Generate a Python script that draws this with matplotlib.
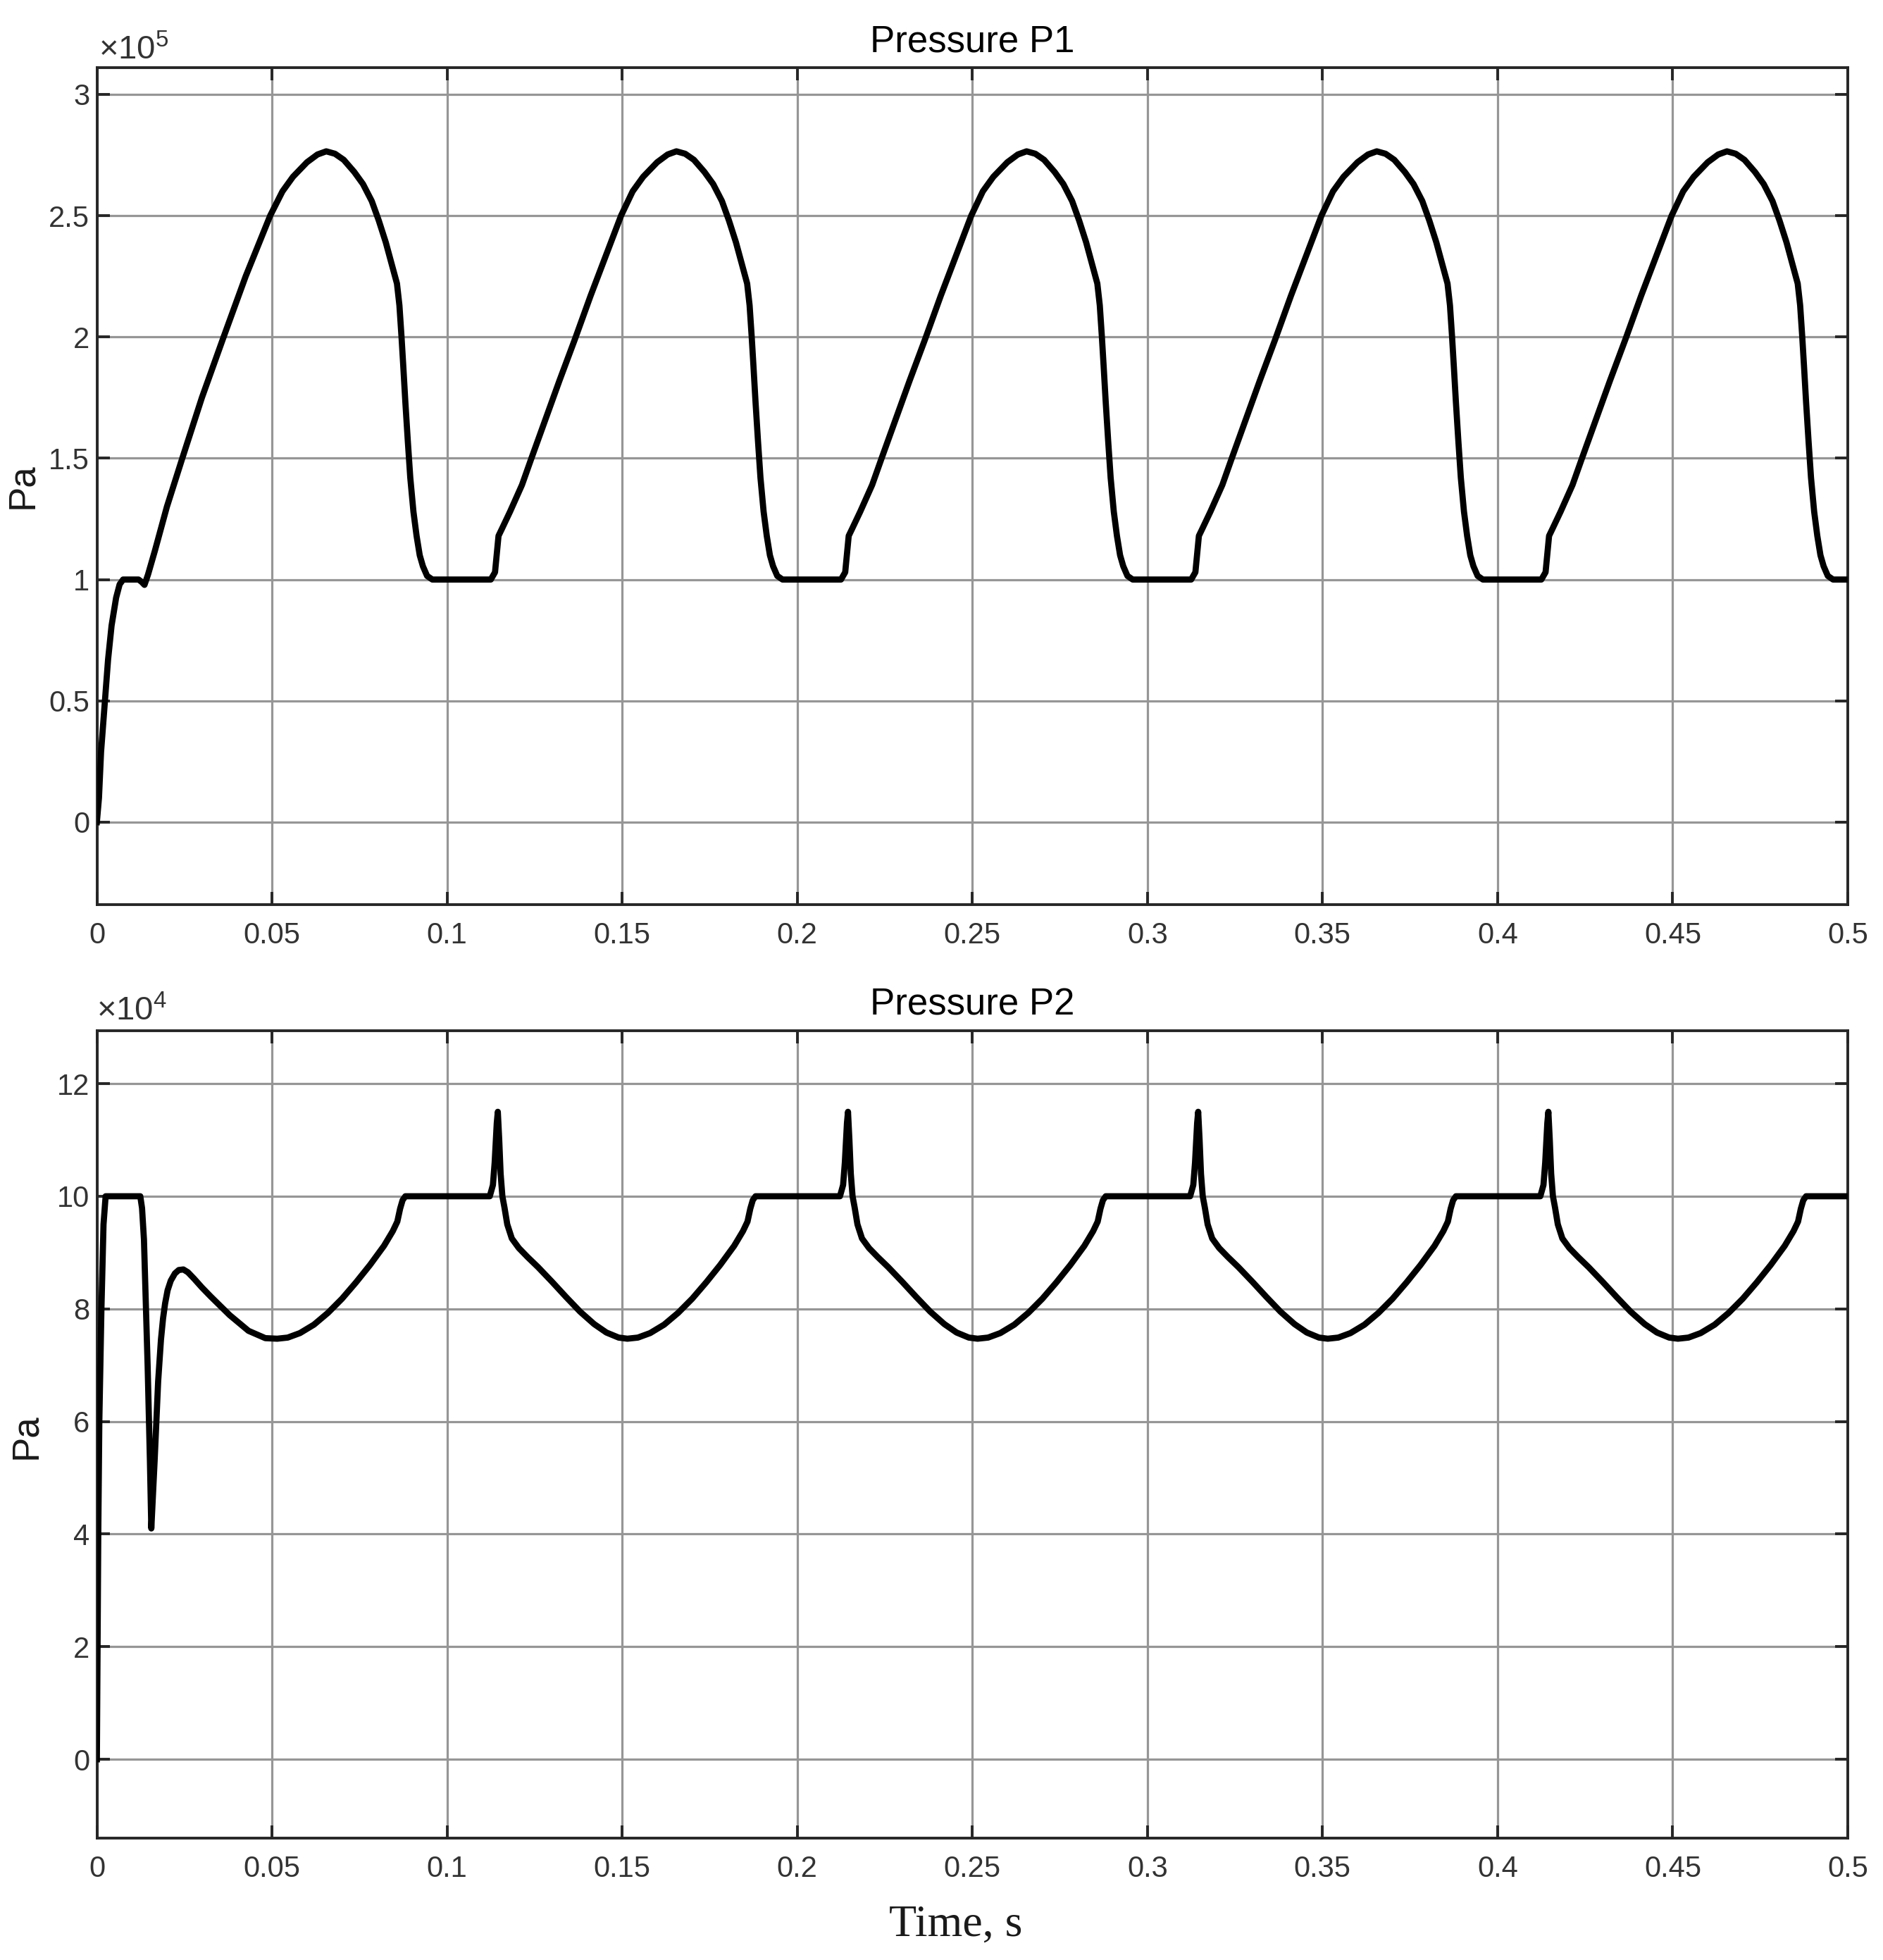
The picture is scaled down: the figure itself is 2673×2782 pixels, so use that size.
import matplotlib
matplotlib.use("Agg")
import matplotlib.pyplot as plt

plt.rcParams['font.family'] = ['Liberation Sans', 'DejaVu Sans']
plt.rcParams['mathtext.fontset'] = 'custom'
plt.rcParams['mathtext.rm'] = 'Liberation Sans'
plt.rcParams['mathtext.it'] = 'Liberation Sans:italic'

# ---------------- data ----------------
# Pressure P1, units of 1e5 Pa
p1_time = [
    0.0000, 0.0006, 0.0012, 0.0022, 0.0032, 0.0042, 0.0055, 0.0065, 0.0075, 0.0119, 0.0128, 0.0136, 0.0146,
    0.0166, 0.0200, 0.0244, 0.0300, 0.0362, 0.0425, 0.0495,
    0.0530, 0.0560, 0.0600, 0.0630, 0.0655, 0.0680, 0.0705, 0.0735, 0.0760, 0.0785, 0.0805, 0.0825, 0.0842,
    0.0857, 0.0864, 0.0870, 0.0875, 0.0881, 0.0888, 0.0895, 0.0904, 0.0913, 0.0922, 0.0931, 0.0943, 0.0958,
    # cycle 2
    0.1125, 0.1137, 0.1147, 0.1157, 0.1180, 0.1214, 0.1241, 0.1281, 0.1321, 0.1365, 0.1410, 0.1460, 0.1497,
    0.1530, 0.1560, 0.1600, 0.1630, 0.1655, 0.1680, 0.1705, 0.1735, 0.1760, 0.1785, 0.1805, 0.1825, 0.1842,
    0.1857, 0.1864, 0.1870, 0.1875, 0.1881, 0.1888, 0.1895, 0.1904, 0.1913, 0.1922, 0.1931, 0.1943, 0.1958,
    # cycle 3
    0.2125, 0.2137, 0.2147, 0.2157, 0.2180, 0.2214, 0.2241, 0.2281, 0.2321, 0.2365, 0.2410, 0.2460, 0.2497,
    0.2530, 0.2560, 0.2600, 0.2630, 0.2655, 0.2680, 0.2705, 0.2735, 0.2760, 0.2785, 0.2805, 0.2825, 0.2842,
    0.2857, 0.2864, 0.2870, 0.2875, 0.2881, 0.2888, 0.2895, 0.2904, 0.2913, 0.2922, 0.2931, 0.2943, 0.2958,
    # cycle 4
    0.3125, 0.3137, 0.3147, 0.3157, 0.3180, 0.3214, 0.3241, 0.3281, 0.3321, 0.3365, 0.3410, 0.3460, 0.3497,
    0.3530, 0.3560, 0.3600, 0.3630, 0.3655, 0.3680, 0.3705, 0.3735, 0.3760, 0.3785, 0.3805, 0.3825, 0.3842,
    0.3857, 0.3864, 0.3870, 0.3875, 0.3881, 0.3888, 0.3895, 0.3904, 0.3913, 0.3922, 0.3931, 0.3943, 0.3958,
    # cycle 5
    0.4125, 0.4137, 0.4147, 0.4157, 0.4180, 0.4214, 0.4241, 0.4281, 0.4321, 0.4365, 0.4410, 0.4460, 0.4497,
    0.4530, 0.4560, 0.4600, 0.4630, 0.4655, 0.4680, 0.4705, 0.4735, 0.4760, 0.4785, 0.4805, 0.4825, 0.4842,
    0.4857, 0.4864, 0.4870, 0.4875, 0.4881, 0.4888, 0.4895, 0.4904, 0.4913, 0.4922, 0.4931, 0.4943, 0.4958,
    0.5000,
]
p1_value = [
    0.00, 0.10, 0.29, 0.48, 0.67, 0.81, 0.925, 0.98, 1.00, 1.00, 0.99, 0.978, 1.02,
    1.12, 1.30, 1.50, 1.75, 2.00, 2.25, 2.50,
    2.60, 2.66, 2.72, 2.752, 2.765, 2.755, 2.73, 2.68, 2.63, 2.56, 2.48, 2.39, 2.30,
    2.22, 2.13, 2.00, 1.88, 1.73, 1.57, 1.42, 1.28, 1.18, 1.10, 1.055, 1.015, 1.00,
    # cycle 2
    1.00, 1.03, 1.18, 1.21, 1.28, 1.39, 1.50, 1.66, 1.82, 1.99, 2.17, 2.36, 2.50,
    2.60, 2.66, 2.72, 2.752, 2.765, 2.755, 2.73, 2.68, 2.63, 2.56, 2.48, 2.39, 2.30,
    2.22, 2.13, 2.00, 1.88, 1.73, 1.57, 1.42, 1.28, 1.18, 1.10, 1.055, 1.015, 1.00,
    # cycle 3
    1.00, 1.03, 1.18, 1.21, 1.28, 1.39, 1.50, 1.66, 1.82, 1.99, 2.17, 2.36, 2.50,
    2.60, 2.66, 2.72, 2.752, 2.765, 2.755, 2.73, 2.68, 2.63, 2.56, 2.48, 2.39, 2.30,
    2.22, 2.13, 2.00, 1.88, 1.73, 1.57, 1.42, 1.28, 1.18, 1.10, 1.055, 1.015, 1.00,
    # cycle 4
    1.00, 1.03, 1.18, 1.21, 1.28, 1.39, 1.50, 1.66, 1.82, 1.99, 2.17, 2.36, 2.50,
    2.60, 2.66, 2.72, 2.752, 2.765, 2.755, 2.73, 2.68, 2.63, 2.56, 2.48, 2.39, 2.30,
    2.22, 2.13, 2.00, 1.88, 1.73, 1.57, 1.42, 1.28, 1.18, 1.10, 1.055, 1.015, 1.00,
    # cycle 5
    1.00, 1.03, 1.18, 1.21, 1.28, 1.39, 1.50, 1.66, 1.82, 1.99, 2.17, 2.36, 2.50,
    2.60, 2.66, 2.72, 2.752, 2.765, 2.755, 2.73, 2.68, 2.63, 2.56, 2.48, 2.39, 2.30,
    2.22, 2.13, 2.00, 1.88, 1.73, 1.57, 1.42, 1.28, 1.18, 1.10, 1.055, 1.015, 1.00,
    1.00,
]

# Pressure P2, units of 1e4 Pa
p2_time = [
    0.0000, 0.0004, 0.0007, 0.0013, 0.0019, 0.0025, 0.0124, 0.0129, 0.01345, 0.0145, 0.01515, 0.01555,
    0.0165, 0.0175, 0.0183, 0.0189, 0.0195, 0.0202, 0.0211, 0.0223, 0.0234, 0.0247, 0.0260, 0.0277,
    0.0300, 0.0325, 0.0379, 0.0433, 0.0481, 0.0515,
    0.0545, 0.0580, 0.0620, 0.0660, 0.0700, 0.0740, 0.0780, 0.0820, 0.0845, 0.0858, 0.0866, 0.0873, 0.0881,
    # cycle 2
    0.1122, 0.1131, 0.1136, 0.1142, 0.1145, 0.1149, 0.1153, 0.1158, 0.1164, 0.1172, 0.1185, 0.1205,
    0.1230, 0.1260, 0.1300, 0.1340, 0.1380, 0.1420, 0.1455, 0.1490, 0.1515,
    0.1545, 0.1580, 0.1620, 0.1660, 0.1700, 0.1740, 0.1780, 0.1820, 0.1845, 0.1858, 0.1866, 0.1873, 0.1881,
    # cycle 3
    0.2122, 0.2131, 0.2136, 0.2142, 0.2145, 0.2149, 0.2153, 0.2158, 0.2164, 0.2172, 0.2185, 0.2205,
    0.2230, 0.2260, 0.2300, 0.2340, 0.2380, 0.2420, 0.2455, 0.2490, 0.2515,
    0.2545, 0.2580, 0.2620, 0.2660, 0.2700, 0.2740, 0.2780, 0.2820, 0.2845, 0.2858, 0.2866, 0.2873, 0.2881,
    # cycle 4
    0.3122, 0.3131, 0.3136, 0.3142, 0.3145, 0.3149, 0.3153, 0.3158, 0.3164, 0.3172, 0.3185, 0.3205,
    0.3230, 0.3260, 0.3300, 0.3340, 0.3380, 0.3420, 0.3455, 0.3490, 0.3515,
    0.3545, 0.3580, 0.3620, 0.3660, 0.3700, 0.3740, 0.3780, 0.3820, 0.3845, 0.3858, 0.3866, 0.3873, 0.3881,
    # cycle 5
    0.4122, 0.4131, 0.4136, 0.4142, 0.4145, 0.4149, 0.4153, 0.4158, 0.4164, 0.4172, 0.4185, 0.4205,
    0.4230, 0.4260, 0.4300, 0.4340, 0.4380, 0.4420, 0.4455, 0.4490, 0.4515,
    0.4545, 0.4580, 0.4620, 0.4660, 0.4700, 0.4740, 0.4780, 0.4820, 0.4845, 0.4858, 0.4866, 0.4873, 0.4881,
    0.5000,
]
p2_value = [
    0.0, 4.0, 6.0, 8.0, 9.5, 10.0, 10.0, 9.79, 9.23, 6.99, 5.31, 4.10,
    5.31, 6.71, 7.45, 7.83, 8.10, 8.33, 8.50, 8.63, 8.69, 8.70, 8.65, 8.54,
    8.38, 8.22, 7.89, 7.61, 7.48, 7.47,
    7.49, 7.57, 7.72, 7.93, 8.18, 8.47, 8.78, 9.12, 9.38, 9.55, 9.78, 9.93, 10.0,
    # cycle 2
    10.0, 10.2, 10.6, 11.3, 11.5, 11.0, 10.4, 10.0, 9.8, 9.5, 9.25, 9.08,
    8.92, 8.74, 8.48, 8.21, 7.95, 7.73, 7.58, 7.49, 7.47,
    7.49, 7.57, 7.72, 7.93, 8.18, 8.47, 8.78, 9.12, 9.38, 9.55, 9.78, 9.93, 10.0,
    # cycle 3
    10.0, 10.2, 10.6, 11.3, 11.5, 11.0, 10.4, 10.0, 9.8, 9.5, 9.25, 9.08,
    8.92, 8.74, 8.48, 8.21, 7.95, 7.73, 7.58, 7.49, 7.47,
    7.49, 7.57, 7.72, 7.93, 8.18, 8.47, 8.78, 9.12, 9.38, 9.55, 9.78, 9.93, 10.0,
    # cycle 4
    10.0, 10.2, 10.6, 11.3, 11.5, 11.0, 10.4, 10.0, 9.8, 9.5, 9.25, 9.08,
    8.92, 8.74, 8.48, 8.21, 7.95, 7.73, 7.58, 7.49, 7.47,
    7.49, 7.57, 7.72, 7.93, 8.18, 8.47, 8.78, 9.12, 9.38, 9.55, 9.78, 9.93, 10.0,
    # cycle 5
    10.0, 10.2, 10.6, 11.3, 11.5, 11.0, 10.4, 10.0, 9.8, 9.5, 9.25, 9.08,
    8.92, 8.74, 8.48, 8.21, 7.95, 7.73, 7.58, 7.49, 7.47,
    7.49, 7.57, 7.72, 7.93, 8.18, 8.47, 8.78, 9.12, 9.38, 9.55, 9.78, 9.93, 10.0,
    10.0,
]

x_ticks = [0, 0.05, 0.1, 0.15, 0.2, 0.25, 0.3, 0.35, 0.4, 0.45, 0.5]
x_tick_labels = ['0', '0.05', '0.1', '0.15', '0.2', '0.25', '0.3', '0.35', '0.4', '0.45', '0.5']
p1_ticks = [0, 0.5, 1, 1.5, 2, 2.5, 3]
p1_tick_labels = ['0', '0.5', '1', '1.5', '2', '2.5', '3']
p2_ticks = [0, 2, 4, 6, 8, 10, 12]
p2_tick_labels = ['0', '2', '4', '6', '8', '10', '12']

# ---------------- figure ----------------
W, H = 2673, 2782
fig = plt.figure(figsize=(W / 100, H / 100), dpi=100)

def px_axes(left, top, right, bottom):
    return fig.add_axes([left / W, 1 - bottom / H, (right - left) / W, (bottom - top) / H])

ax1 = px_axes(137.5, 96, 2623, 1284)
ax2 = px_axes(137.5, 1463, 2623, 2609)

spine_c = '#262626'
grid_c = '#969696'
tick_c = '#333333'

def style(ax, yticks, ylabels, ylim, title):
    ax.set_xlim(0, 0.5)
    ax.set_ylim(*ylim)
    ax.set_xticks(x_ticks)
    ax.set_xticklabels(x_tick_labels)
    ax.set_yticks(yticks)
    ax.set_yticklabels(ylabels)
    ax.grid(True, color=grid_c, linewidth=2.3, zorder=0)
    ax.set_axisbelow(True)
    for s in ax.spines.values():
        s.set_color(spine_c)
        s.set_linewidth(2.8)
    ax.tick_params(direction='in', top=True, right=True, length=13, width=2.8,
                   color=spine_c, labelsize=30, labelcolor=tick_c)
    ax.tick_params(axis='x', pad=17)
    ax.tick_params(axis='y', pad=7.5)
    ax.set_title(title, fontsize=38, pad=16.5, color='black')

ax1.plot(p1_time, p1_value, color='black', linewidth=6.3, solid_joinstyle='round', zorder=3)
ax2.plot(p2_time, p2_value, color='black', linewidth=6.3, solid_joinstyle='round', zorder=3)

style(ax1, p1_ticks, p1_tick_labels, (-0.34, 3.11), 'Pressure P1')
style(ax2, p2_ticks, p2_tick_labels, (-1.40, 12.94), 'Pressure P2')

# exponent labels
fig.text(140 / W, 1 - 84 / H, r'$\times10^{5}$', fontsize=34, color=tick_c, ha='left', va='baseline')
fig.text(137 / W, 1 - 1448 / H, r'$\times10^{4}$', fontsize=34, color=tick_c, ha='left', va='baseline')

# y labels
fig.text(32 / W, 1 - 690 / H, 'Pa', fontsize=38, rotation=90, ha='center', va='center', color='#1a1a1a')
fig.text(37 / W, 1 - 2039 / H, 'Pa', fontsize=38, rotation=90, ha='center', va='center', color='#1a1a1a')

# x label
fig.text(1357 / W, 1 - 2748 / H, 'Time, s', fontsize=46, family=['Liberation Serif', 'DejaVu Serif'],
         ha='center', va='baseline', color='#1a1a1a')

fig.savefig('out.png', dpi=100, facecolor='white')
